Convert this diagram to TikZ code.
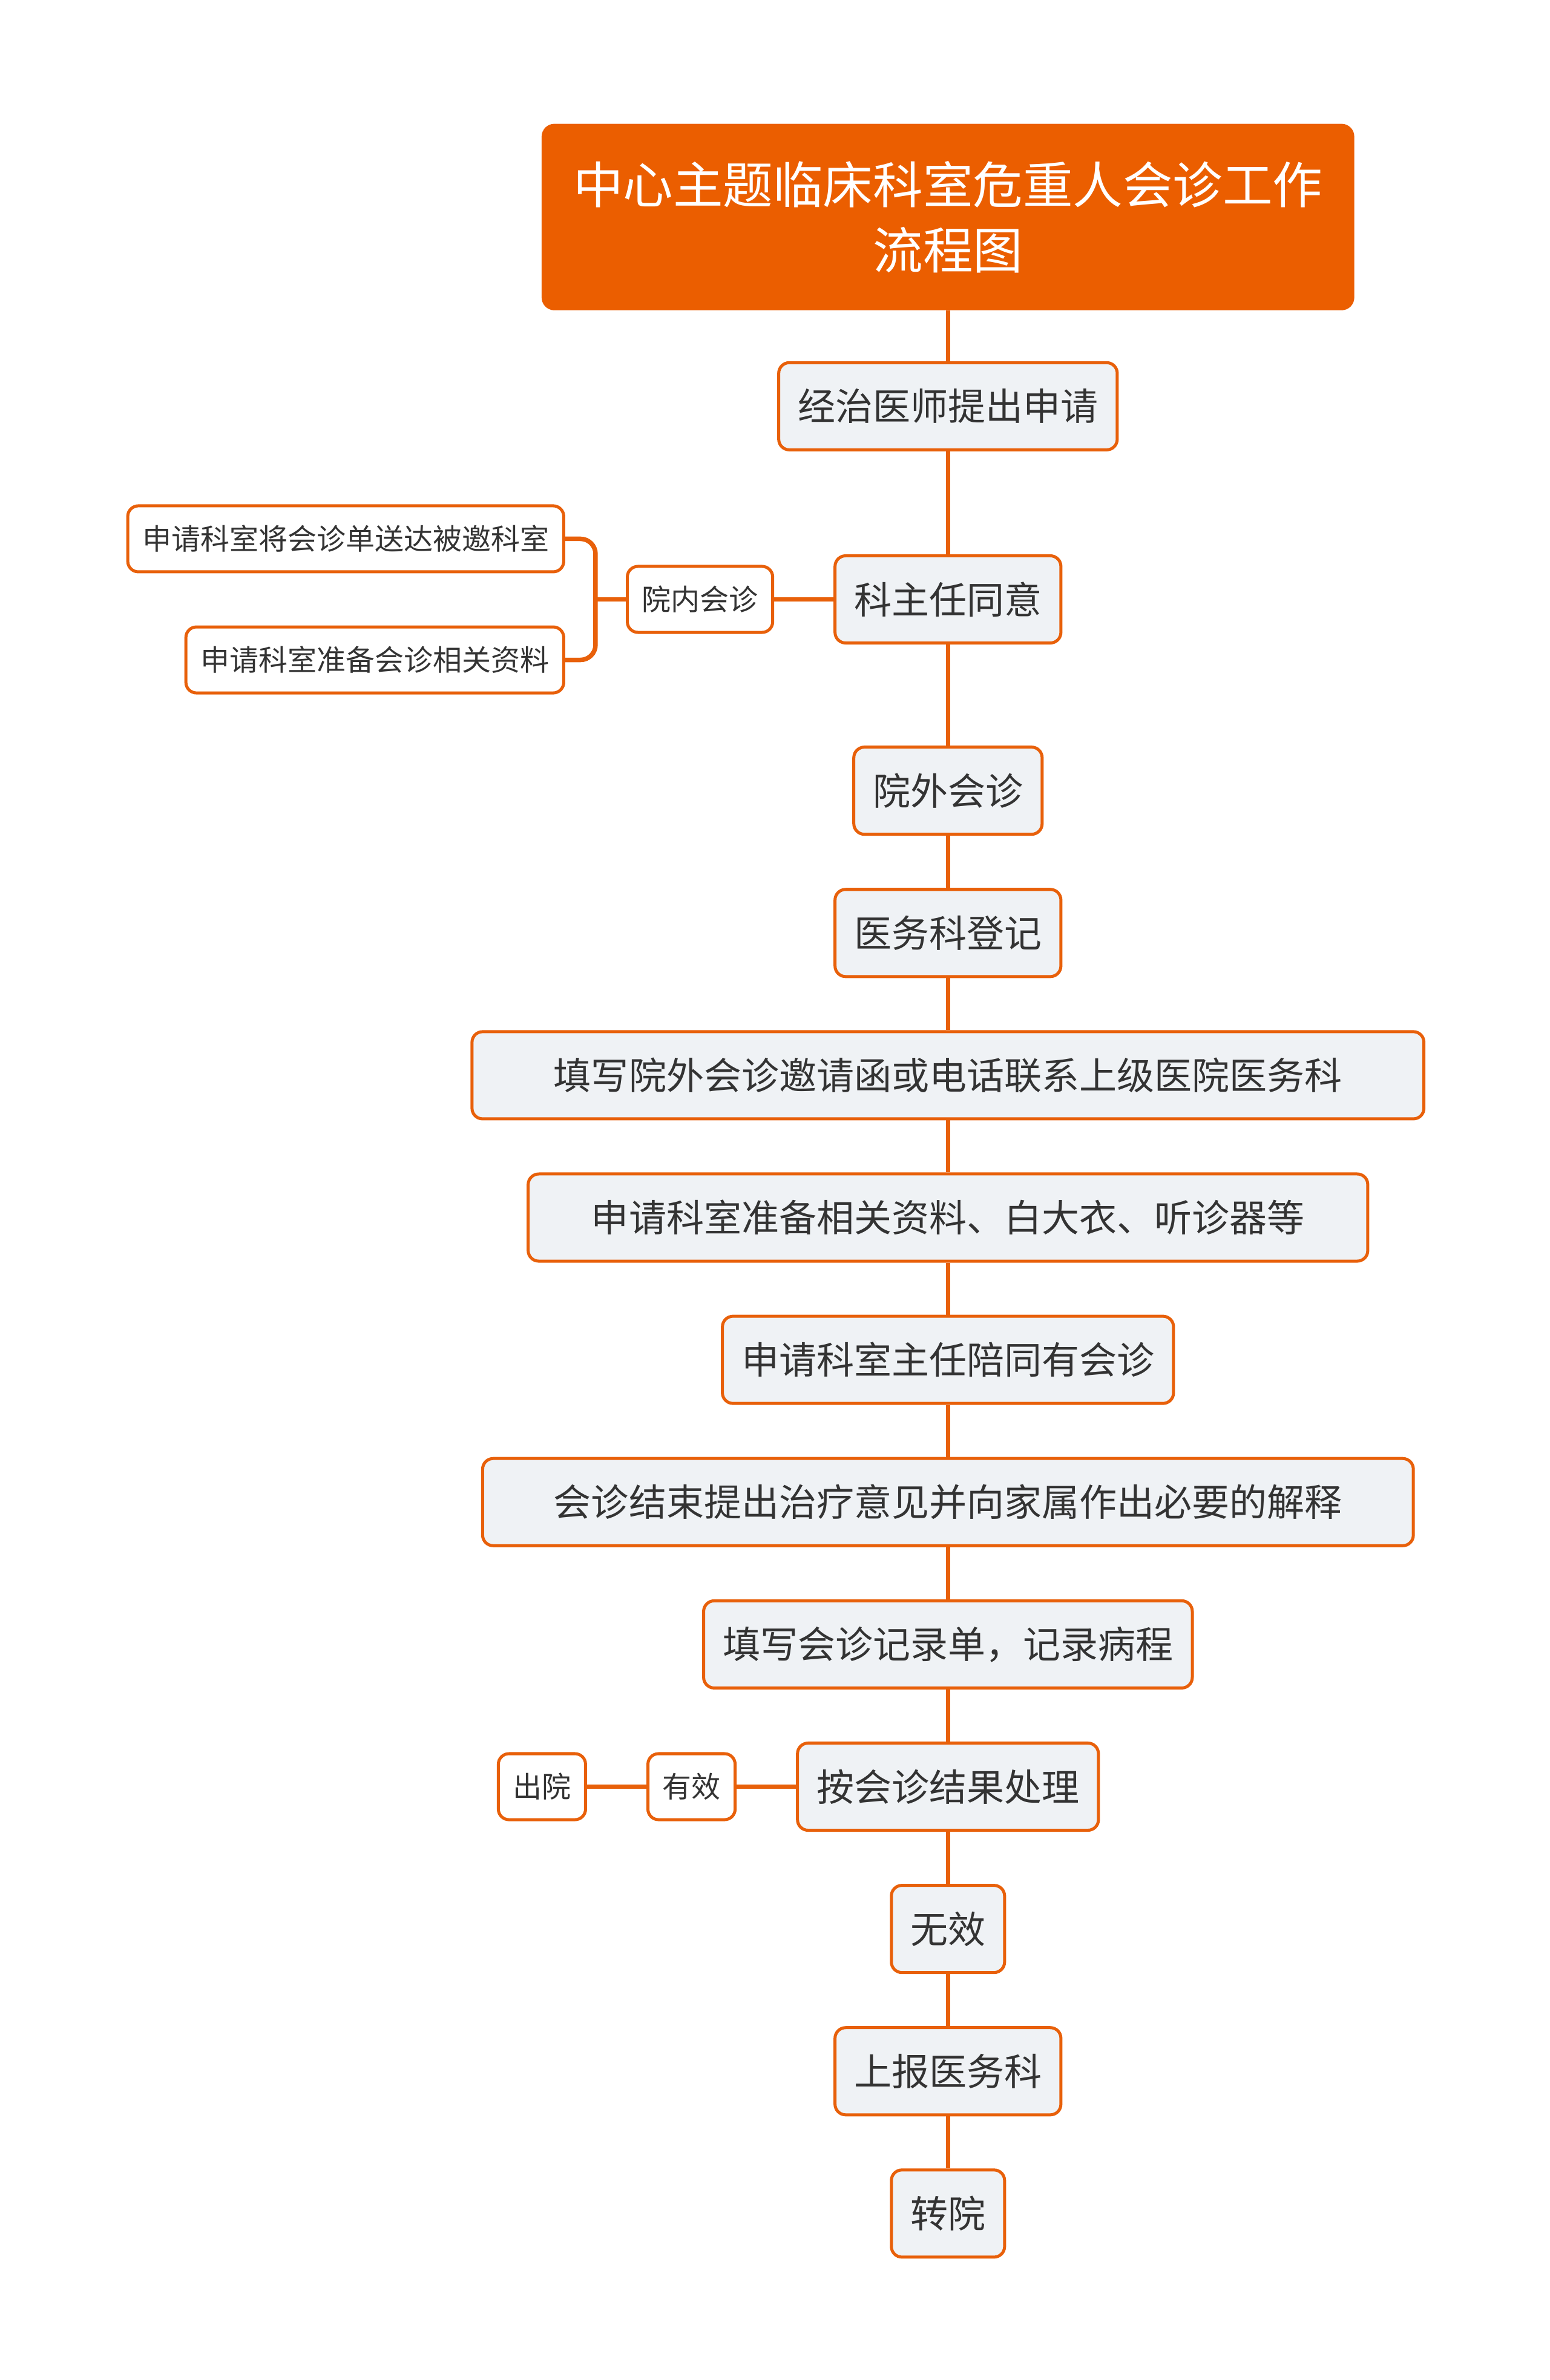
\documentclass[tikz,border=0pt]{standalone}
\usepackage{fontspec}
\setmainfont{Noto Sans CJK SC}
\usetikzlibrary{positioning,calc}
\definecolor{flowline}{HTML}{E8600A}
\definecolor{topicfill}{HTML}{EB5E00}
\definecolor{stepfill}{HTML}{EFF2F5}
\definecolor{inktext}{HTML}{333333}
\newcommand{\topicfont}{\fontsize{16.5}{21.6}\selectfont}
\newcommand{\stepfont}{\fontsize{12.4}{14}\selectfont}
\newcommand{\leaffont}{\fontsize{9.6}{11}\selectfont}

\begin{document}
\begin{tikzpicture}[
    node distance=17.2pt and 19.6pt,
    topic/.style={rectangle, rounded corners=4pt, fill=topicfill, draw=topicfill,
                  text=white, align=center, minimum width=268pt,
                  minimum height=61.2pt, font=\topicfont},
    stepbox/.style={rectangle, draw=flowline, line width=1pt, fill=stepfill,
                    rounded corners=3.5pt, minimum height=28.8pt, inner xsep=6.3pt,
                    inner ysep=0pt, text=inktext, font=\stepfont},
    leaf/.style={rectangle, draw=flowline, line width=1pt, fill=white,
                 rounded corners=3.5pt, minimum height=21.8pt, inner xsep=4.8pt,
                 inner ysep=0pt, text=inktext, font=\leaffont},
    link/.style={draw=flowline, line width=1.5pt},
]
\useasboundingbox (-313.1pt,71.7pt) rectangle (198.8pt,-714.5pt);

% Title
\node[topic] (title) at (0,0) {中心主题临床科室危重人会诊工作\\流程图};

% Main chain
\node[stepbox, below=16.8pt of title] (apply) {经治医师提出申请};
\node[stepbox, below=34pt of apply] (chief) {科主任同意};
\node[stepbox, below=33.4pt of chief] (outer) {院外会诊};
\node[stepbox, below=of outer] (register) {医务科登记};
\node[stepbox, below=of register, minimum width=314.4pt] (invite) {填写院外会诊邀请函或电话联系上级医院医务科};
\node[stepbox, below=of invite, minimum width=277.3pt] (prepkit) {申请科室准备相关资料、白大衣、听诊器等};
\node[stepbox, below=of prepkit] (escort) {申请科室主任陪同有会诊};
\node[stepbox, below=of escort, minimum width=307.4pt] (conclude) {会诊结束提出治疗意见并向家属作出必要的解释};
\node[stepbox, below=of conclude] (record) {填写会诊记录单，记录病程};
\node[stepbox, below=of record] (handle) {按会诊结果处理};
\node[stepbox, below=of handle] (invalid) {无效};
\node[stepbox, below=of invalid] (report) {上报医务科};
\node[stepbox, below=of report] (transfer) {转院};

% In-hospital branch
\node[leaf, left=of chief] (inner) {院内会诊};
\coordinate (fork) at ($(inner.west)+(-10pt,0)$);
\node[leaf, anchor=east] (sendform) at ($(fork)+(-10pt,20pt)$) {申请科室将会诊单送达被邀科室};
\node[leaf, anchor=east] (prepdocs) at ($(fork)+(-10pt,-20pt)$) {申请科室准备会诊相关资料};

% Valid branch
\node[leaf, left=of handle] (valid) {有效};
\node[leaf, left=of valid] (discharge) {出院};

% Connectors
\foreach \a/\b in {title/apply, apply/chief, chief/outer, outer/register,
    register/invite, invite/prepkit, prepkit/escort, escort/conclude,
    conclude/record, record/handle, handle/invalid, invalid/report,
    report/transfer}
  \draw[link] (\a) -- (\b);
\draw[link] (chief) -- (inner);
\draw[link] (inner.west) -- (fork);
\draw[link, rounded corners=5pt] (sendform.east) -| (fork) |- (prepdocs.east);
\draw[link] (handle) -- (valid);
\draw[link] (valid) -- (discharge);

\end{tikzpicture}
\end{document}
